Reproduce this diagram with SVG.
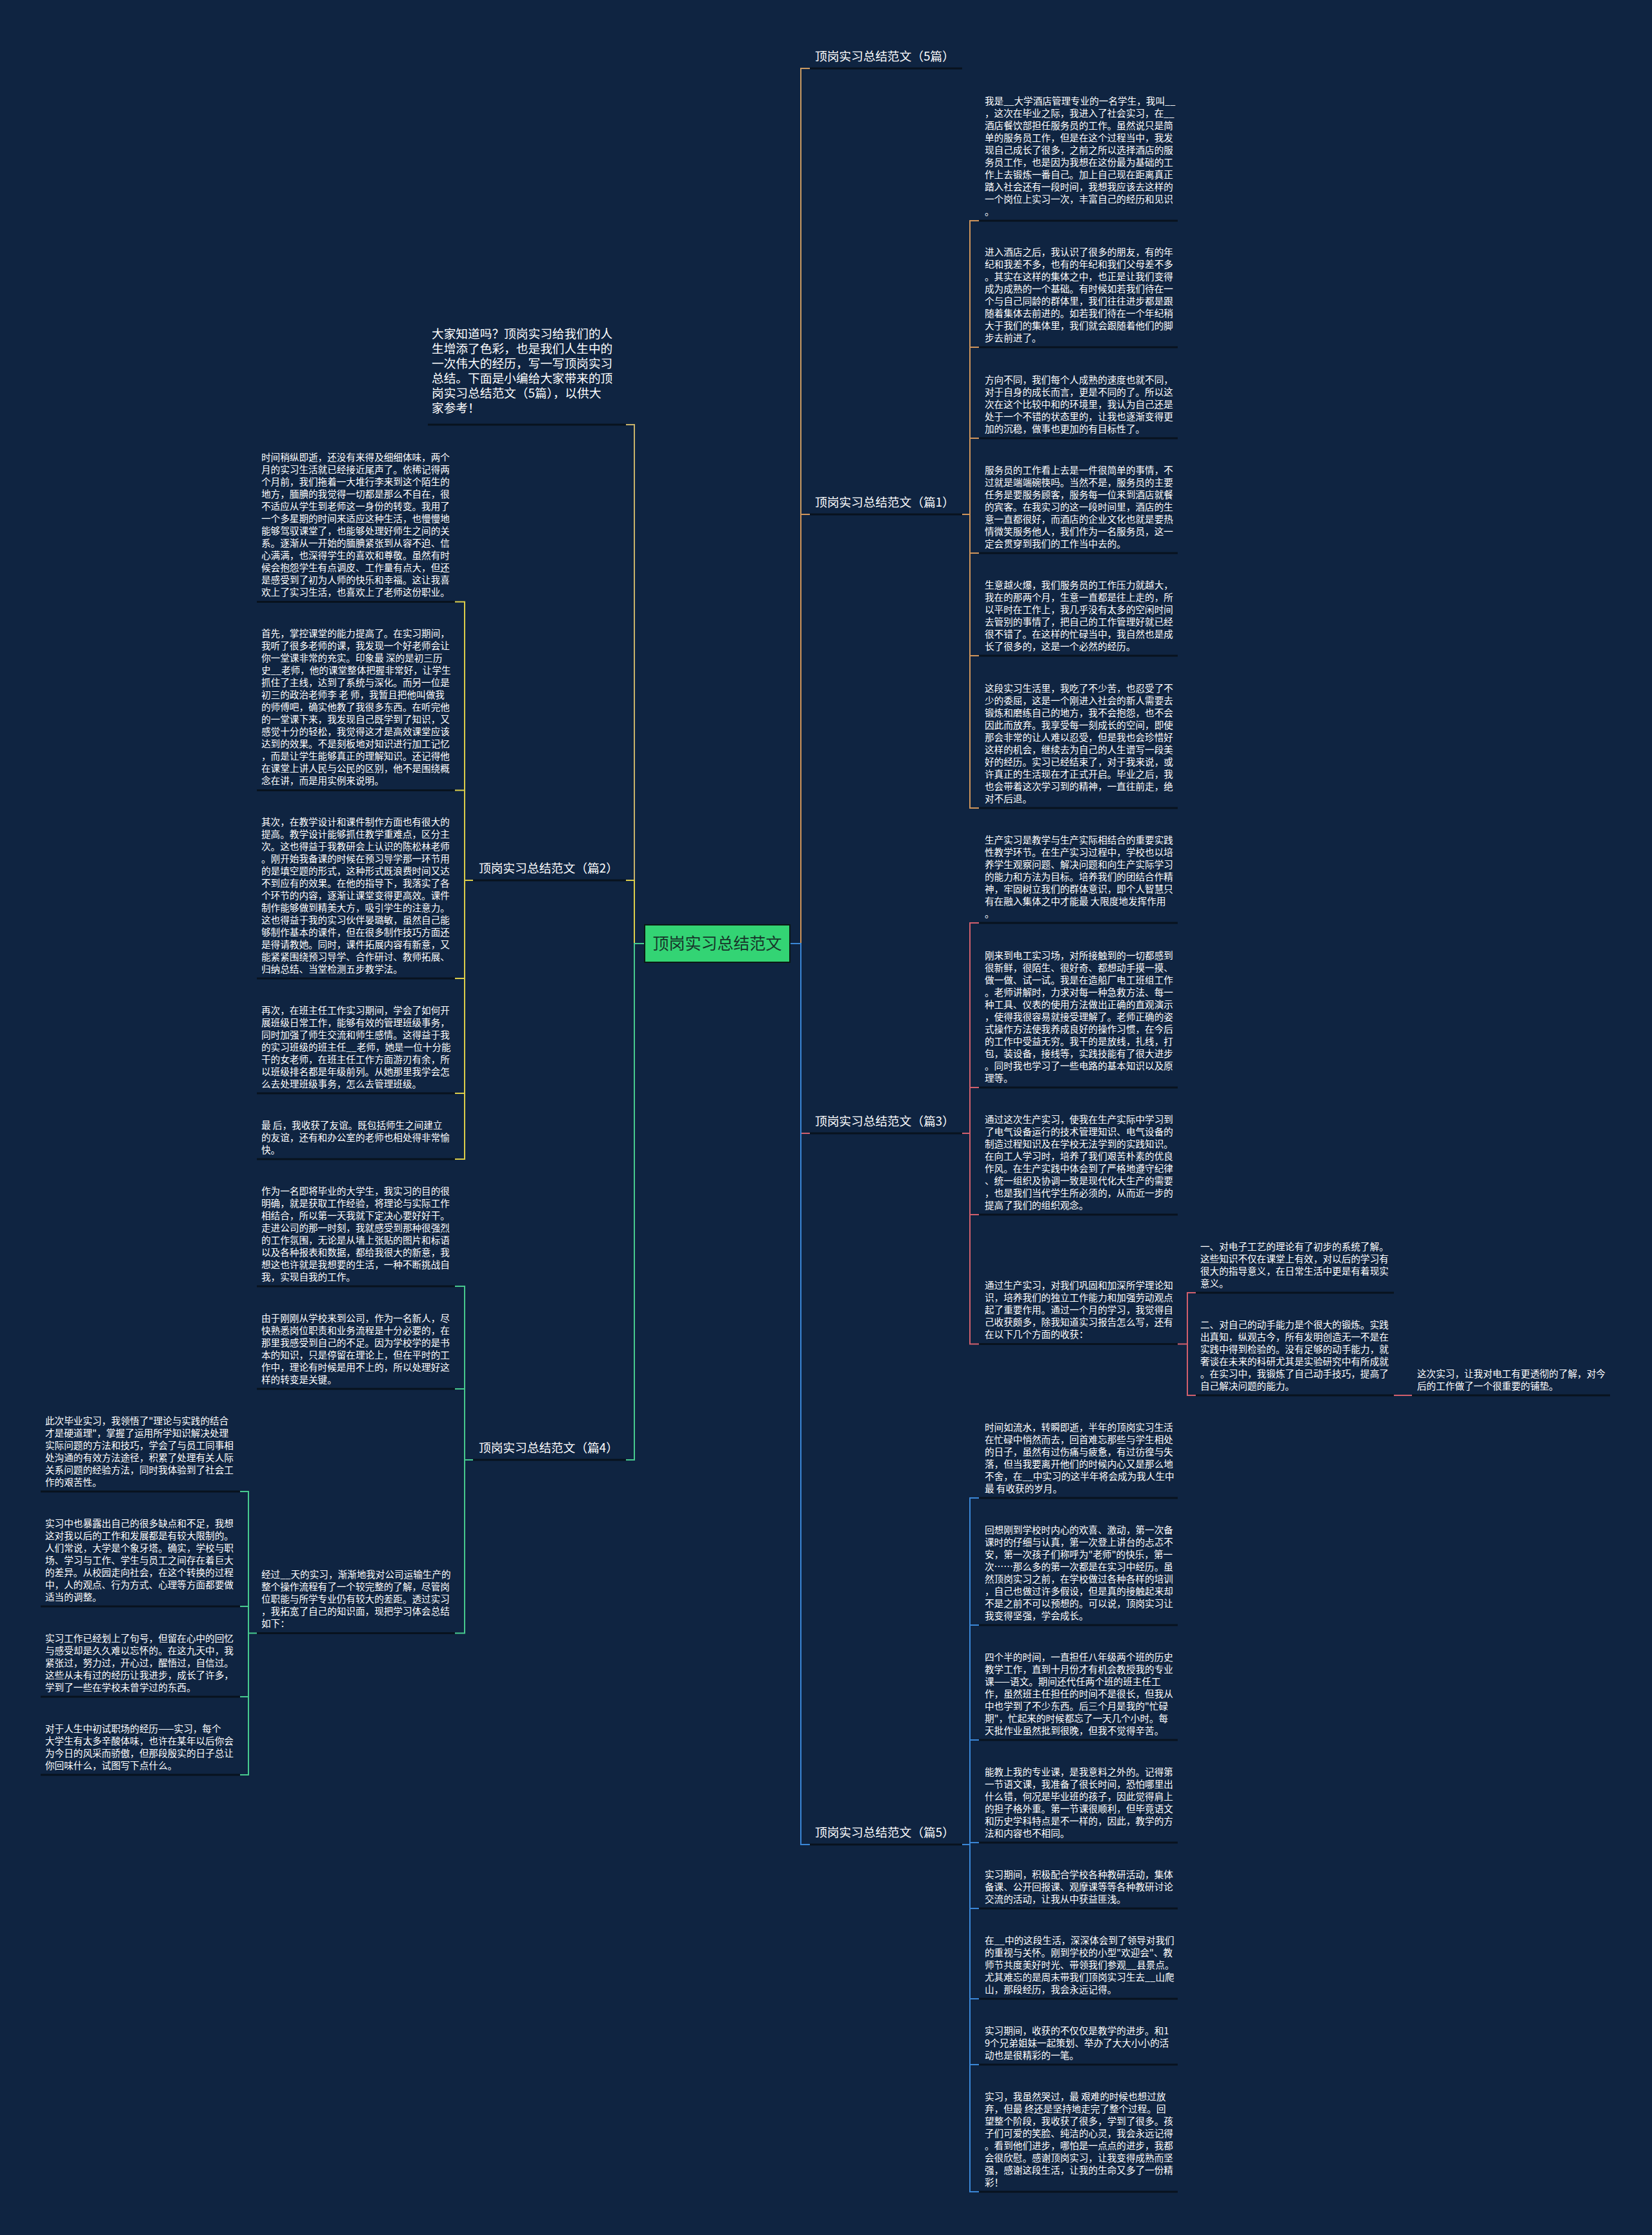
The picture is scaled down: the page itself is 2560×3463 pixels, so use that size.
<svg xmlns="http://www.w3.org/2000/svg" width="2560" height="3463" viewBox="0 0 2560 3463">
<style>
.t{font-family:"Noto Sans CJK SC","Noto Sans",sans-serif;font-size:14.6px;fill:#ffffff}
.h{font-family:"Noto Sans CJK SC","Noto Sans",sans-serif;font-size:18.7px;fill:#ffffff}
.ul{stroke:#08121e;stroke-width:3;fill:none}
.c{fill:none;stroke-width:2}
.o{stroke:#cf945a}.o2{stroke:#c99a62}.p{stroke:#d15f6c}.b{stroke:#3a86d6}.y{stroke:#dccd4a}.g{stroke:#47c98e}.i{stroke:#c8b26a}
</style>
<rect width="2560" height="3463" fill="#0f2441"/>
<g id="connectors">
<path class="c o2" d="M1224,1462 H1241 V106 H1255"/>
<path class="c o" d="M1224,1462 H1241 V797 H1255 M1491,797 H1503 M1517,342 H1503 V1252 H1517 M1503,538 H1517 M1503,679 H1517 M1503,857 H1517 M1503,1016 H1517"/>
<path class="c p" d="M1224,1462 H1241 V1756 H1255 M1491,1756 H1503 M1517,1430 H1503 V2082.5 H1517 M1503,1685 H1517 M1503,1882 H1517 M1825,2082.5 H1840 M1853,2003 H1840 V2162 H1853 M2160,2162 H2188"/>
<path class="c b" d="M1224,1462 H1241 V2858 H1255 M1491,2858 H1503 M1517,2321 H1503 V3396 H1517 M1503,2518 H1517 M1503,2696 H1517 M1503,2855 H1517 M1503,2957 H1517 M1503,3097 H1517 M1503,3199 H1517"/>
<path class="c i" d="M999,1462 H983 V658 H970"/>
<path class="c y" d="M999,1462 H983 V1364 H970 M733,1364 H720 M705,932.5 H720 V1796 H705 M720,1224.5 H705 M720,1516 H705 M720,1694 H705"/>
<path class="c g" d="M999,1462 H983 V2262 H970 M733,2262 H720 M705,1993 H720 V2530.5 H705 M720,2152 H705 M398,2530.5 H385 M372,2311 H385 V2750 H372 M385,2489 H372 M385,2629 H372"/>
</g>
<g id="underlines">
<path class="ul" d="M1255,106 H1491 M1255,797 H1491 M1255,1756 H1491 M1255,2858 H1491 M733,1364 H970 M733,2262 H970 M663,658 H970
M1517,342 H1825 M1517,538 H1825 M1517,679 H1825 M1517,857 H1825 M1517,1016 H1825 M1517,1252 H1825
M1517,1430 H1825 M1517,1685 H1825 M1517,1882 H1825 M1517,2082.5 H1825 M1853,2003 H2160 M1853,2162 H2160 M2188,2162 H2495
M1517,2321 H1825 M1517,2518 H1825 M1517,2696 H1825 M1517,2855 H1825 M1517,2957 H1825 M1517,3097 H1825 M1517,3199 H1825 M1517,3396 H1825
M398,932.5 H705 M398,1224.5 H705 M398,1516 H705 M398,1694 H705 M398,1796 H705 M398,1993 H705 M398,2152 H705 M398,2530.5 H705
M63,2311 H372 M63,2489 H372 M63,2629 H372 M63,2750 H372"/>
</g>
<g id="center">
<rect x="999" y="1433" width="225" height="58" fill="#33d474" stroke="#0a1a14" stroke-width="2"/>
<text x="1111.5" y="1471" text-anchor="middle" font-family="Noto Sans CJK SC, sans-serif" font-size="25" fill="#17352a">顶岗实习总结范文</text>
</g>
<g id="h5"><text class="h" x="1263" y="94">顶岗实习总结范文（5篇）</text></g>
<g id="h1"><text class="h" x="1263" y="785">顶岗实习总结范文（篇1）</text></g>
<g id="h3"><text class="h" x="1263" y="1744">顶岗实习总结范文（篇3）</text></g>
<g id="h5b"><text class="h" x="1263" y="2846">顶岗实习总结范文（篇5）</text></g>
<g id="h2"><text class="h" x="742" y="1352">顶岗实习总结范文（篇2）</text></g>
<g id="h4"><text class="h" x="742" y="2250">顶岗实习总结范文（篇4）</text></g>
<g id="intro"><text class="h" x="669" y="524"><tspan x="669">大家知道吗？顶岗实习给我们的人</tspan><tspan x="669" dy="23">生增添了色彩，也是我们人生中的</tspan><tspan x="669" dy="23">一次伟大的经历，写一写顶岗实习</tspan><tspan x="669" dy="23">总结。下面是小编给大家带来的顶</tspan><tspan x="669" dy="23">岗实习总结范文（5篇），以供大</tspan><tspan x="669" dy="23">家参考！</tspan></text></g>
<g id="b1"><text class="t" x="1526" y="161.5"><tspan x="1526">我是__大学酒店管理专业的一名学生，我叫__</tspan><tspan x="1526" dy="19">，这次在毕业之际，我进入了社会实习，在__</tspan><tspan x="1526" dy="19">酒店餐饮部担任服务员的工作。虽然说只是简</tspan><tspan x="1526" dy="19">单的服务员工作，但是在这个过程当中，我发</tspan><tspan x="1526" dy="19">现自己成长了很多，之前之所以选择酒店的服</tspan><tspan x="1526" dy="19">务员工作，也是因为我想在这份最为基础的工</tspan><tspan x="1526" dy="19">作上去锻炼一番自己。加上自己现在距离真正</tspan><tspan x="1526" dy="19">踏入社会还有一段时间，我想我应该去这样的</tspan><tspan x="1526" dy="19">一个岗位上实习一次，丰富自己的经历和见识</tspan><tspan x="1526" dy="19">。</tspan></text></g>
<g id="b2"><text class="t" x="1526" y="395.5"><tspan x="1526">进入酒店之后，我认识了很多的朋友，有的年</tspan><tspan x="1526" dy="19">纪和我差不多，也有的年纪和我们父母差不多</tspan><tspan x="1526" dy="19">。其实在这样的集体之中，也正是让我们变得</tspan><tspan x="1526" dy="19">成为成熟的一个基础。有时候如若我们待在一</tspan><tspan x="1526" dy="19">个与自己同龄的群体里，我们往往进步都是跟</tspan><tspan x="1526" dy="19">随着集体去前进的。如若我们待在一个年纪稍</tspan><tspan x="1526" dy="19">大于我们的集体里，我们就会跟随着他们的脚</tspan><tspan x="1526" dy="19">步去前进了。</tspan></text></g>
<g id="b3"><text class="t" x="1526" y="593.5"><tspan x="1526">方向不同，我们每个人成熟的速度也就不同，</tspan><tspan x="1526" dy="19">对于自身的成长而言，更是不同的了。所以这</tspan><tspan x="1526" dy="19">次在这个比较中和的环境里，我认为自己还是</tspan><tspan x="1526" dy="19">处于一个不错的状态里的，让我也逐渐变得更</tspan><tspan x="1526" dy="19">加的沉稳，做事也更加的有目标性了。</tspan></text></g>
<g id="b4"><text class="t" x="1526" y="733.5"><tspan x="1526">服务员的工作看上去是一件很简单的事情，不</tspan><tspan x="1526" dy="19">过就是端端碗筷吗。当然不是，服务员的主要</tspan><tspan x="1526" dy="19">任务是要服务顾客，服务每一位来到酒店就餐</tspan><tspan x="1526" dy="19">的宾客。在我实习的这一段时间里，酒店的生</tspan><tspan x="1526" dy="19">意一直都很好，而酒店的企业文化也就是要热</tspan><tspan x="1526" dy="19">情微笑服务他人，我们作为一名服务员，这一</tspan><tspan x="1526" dy="19">定会贯穿到我们的工作当中去的。</tspan></text></g>
<g id="b5"><text class="t" x="1526" y="911.5"><tspan x="1526">生意越火爆，我们服务员的工作压力就越大，</tspan><tspan x="1526" dy="19">我在的那两个月，生意一直都是往上走的，所</tspan><tspan x="1526" dy="19">以平时在工作上，我几乎没有太多的空闲时间</tspan><tspan x="1526" dy="19">去管别的事情了，把自己的工作管理好就已经</tspan><tspan x="1526" dy="19">很不错了。在这样的忙碌当中，我自然也是成</tspan><tspan x="1526" dy="19">长了很多的，这是一个必然的经历。</tspan></text></g>
<g id="b6"><text class="t" x="1526" y="1071.5"><tspan x="1526">这段实习生活里，我吃了不少苦，也忍受了不</tspan><tspan x="1526" dy="19">少的委屈，这是一个刚进入社会的新人需要去</tspan><tspan x="1526" dy="19">锻炼和磨练自己的地方，我不会抱怨，也不会</tspan><tspan x="1526" dy="19">因此而放弃。我享受每一刻成长的空间，即使</tspan><tspan x="1526" dy="19">那会非常的让人难以忍受，但是我也会珍惜好</tspan><tspan x="1526" dy="19">这样的机会，继续去为自己的人生谱写一段美</tspan><tspan x="1526" dy="19">好的经历。实习已经结束了，对于我来说，或</tspan><tspan x="1526" dy="19">许真正的生活现在才正式开启。毕业之后，我</tspan><tspan x="1526" dy="19">也会带着这次学习到的精神，一直往前走，绝</tspan><tspan x="1526" dy="19">对不后退。</tspan></text></g>
<g id="b7"><text class="t" x="1526" y="1306.5"><tspan x="1526">生产实习是教学与生产实际相结合的重要实践</tspan><tspan x="1526" dy="19">性教学环节。在生产实习过程中，学校也以培</tspan><tspan x="1526" dy="19">养学生观察问题、解决问题和向生产实际学习</tspan><tspan x="1526" dy="19">的能力和方法为目标。培养我们的团结合作精</tspan><tspan x="1526" dy="19">神，牢固树立我们的群体意识，即个人智慧只</tspan><tspan x="1526" dy="19">有在融入集体之中才能最 大限度地发挥作用</tspan><tspan x="1526" dy="19">。</tspan></text></g>
<g id="b8"><text class="t" x="1526" y="1485.5"><tspan x="1526">刚来到电工实习场，对所接触到的一切都感到</tspan><tspan x="1526" dy="19">很新鲜，很陌生、很好奇、都想动手摸一摸、</tspan><tspan x="1526" dy="19">做一做、试一试。我是在造船厂电工班组工作</tspan><tspan x="1526" dy="19">。老师讲解时，力求对每一种急救方法、每一</tspan><tspan x="1526" dy="19">种工具、仪表的使用方法做出正确的直观演示</tspan><tspan x="1526" dy="19">，使得我很容易就接受理解了。老师正确的姿</tspan><tspan x="1526" dy="19">式操作方法使我养成良好的操作习惯，在今后</tspan><tspan x="1526" dy="19">的工作中受益无穷。我干的是放线，扎线，打</tspan><tspan x="1526" dy="19">包，装设备，接线等，实践技能有了很大进步</tspan><tspan x="1526" dy="19">。同时我也学习了一些电路的基本知识以及原</tspan><tspan x="1526" dy="19">理等。</tspan></text></g>
<g id="b9"><text class="t" x="1526" y="1739.5"><tspan x="1526">通过这次生产实习，使我在生产实际中学习到</tspan><tspan x="1526" dy="19">了电气设备运行的技术管理知识、电气设备的</tspan><tspan x="1526" dy="19">制造过程知识及在学校无法学到的实践知识。</tspan><tspan x="1526" dy="19">在向工人学习时，培养了我们艰苦朴素的优良</tspan><tspan x="1526" dy="19">作风。在生产实践中体会到了严格地遵守纪律</tspan><tspan x="1526" dy="19">、统一组织及协调一致是现代化大生产的需要</tspan><tspan x="1526" dy="19">，也是我们当代学生所必须的，从而近一步的</tspan><tspan x="1526" dy="19">提高了我们的组织观念。</tspan></text></g>
<g id="b10"><text class="t" x="1526" y="1997"><tspan x="1526">通过生产实习，对我们巩固和加深所学理论知</tspan><tspan x="1526" dy="19">识，培养我们的独立工作能力和加强劳动观点</tspan><tspan x="1526" dy="19">起了重要作用。通过一个月的学习，我觉得自</tspan><tspan x="1526" dy="19">己收获颇多，除我知道实习报告怎么写，还有</tspan><tspan x="1526" dy="19">在以下几个方面的收获：</tspan></text></g>
<g id="fr1"><text class="t" x="1860" y="1936.5"><tspan x="1860">一、对电子工艺的理论有了初步的系统了解。</tspan><tspan x="1860" dy="19">这些知识不仅在课堂上有效，对以后的学习有</tspan><tspan x="1860" dy="19">很大的指导意义，在日常生活中更是有着现实</tspan><tspan x="1860" dy="19">意义。</tspan></text></g>
<g id="fr2"><text class="t" x="1860" y="2057.5"><tspan x="1860">二、对自己的动手能力是个很大的锻炼。实践</tspan><tspan x="1860" dy="19">出真知，纵观古今，所有发明创造无一不是在</tspan><tspan x="1860" dy="19">实践中得到检验的。没有足够的动手能力，就</tspan><tspan x="1860" dy="19">奢谈在未来的科研尤其是实验研究中有所成就</tspan><tspan x="1860" dy="19">。在实习中，我锻炼了自己动手技巧，提高了</tspan><tspan x="1860" dy="19">自己解决问题的能力。</tspan></text></g>
<g id="fr3"><text class="t" x="2196" y="2133.5"><tspan x="2196">这次实习，让我对电工有更透彻的了解，对今</tspan><tspan x="2196" dy="19">后的工作做了一个很重要的铺垫。</tspan></text></g>
<g id="b11"><text class="t" x="1526" y="2216.5"><tspan x="1526">时间如流水，转瞬即逝，半年的顶岗实习生活</tspan><tspan x="1526" dy="19">在忙碌中悄然而去，回首难忘那些与学生相处</tspan><tspan x="1526" dy="19">的日子，虽然有过伤痛与疲惫，有过彷徨与失</tspan><tspan x="1526" dy="19">落，但当我要离开他们的时候内心又是那么地</tspan><tspan x="1526" dy="19">不舍，在__中实习的这半年将会成为我人生中</tspan><tspan x="1526" dy="19">最 有收获的岁月。</tspan></text></g>
<g id="b12"><text class="t" x="1526" y="2375.5"><tspan x="1526">回想刚到学校时内心的欢喜、激动，第一次备</tspan><tspan x="1526" dy="19">课时的仔细与认真，第一次登上讲台的忐忑不</tspan><tspan x="1526" dy="19">安，第一次孩子们称呼为"老师"的快乐，第一</tspan><tspan x="1526" dy="19">次……那么多的第一次都是在实习中经历。虽</tspan><tspan x="1526" dy="19">然顶岗实习之前，在学校做过各种各样的培训</tspan><tspan x="1526" dy="19">，自己也做过许多假设，但是真的接触起来却</tspan><tspan x="1526" dy="19">不是之前不可以预想的。可以说，顶岗实习让</tspan><tspan x="1526" dy="19">我变得坚强，学会成长。</tspan></text></g>
<g id="b13"><text class="t" x="1526" y="2572.5"><tspan x="1526">四个半的时间，一直担任八年级两个班的历史</tspan><tspan x="1526" dy="19">教学工作，直到十月份才有机会教授我的专业</tspan><tspan x="1526" dy="19">课——语文。期间还代任两个班的班主任工</tspan><tspan x="1526" dy="19">作，虽然班主任担任的时间不是很长，但我从</tspan><tspan x="1526" dy="19">中也学到了不少东西。后三个月是我的"忙碌</tspan><tspan x="1526" dy="19">期"，忙起来的时候都忘了一天几个小时。每</tspan><tspan x="1526" dy="19">天批作业虽然批到很晚，但我不觉得辛苦。</tspan></text></g>
<g id="b14"><text class="t" x="1526" y="2750.5"><tspan x="1526">能教上我的专业课，是我意料之外的。记得第</tspan><tspan x="1526" dy="19">一节语文课，我准备了很长时间，恐怕哪里出</tspan><tspan x="1526" dy="19">什么错，何况是毕业班的孩子，因此觉得肩上</tspan><tspan x="1526" dy="19">的担子格外重。第一节课很顺利，但毕竟语文</tspan><tspan x="1526" dy="19">和历史学科特点是不一样的，因此，教学的方</tspan><tspan x="1526" dy="19">法和内容也不相同。</tspan></text></g>
<g id="b15"><text class="t" x="1526" y="2909.5"><tspan x="1526">实习期间，积极配合学校各种教研活动，集体</tspan><tspan x="1526" dy="19">备课、公开回报课、观摩课等等各种教研讨论</tspan><tspan x="1526" dy="19">交流的活动，让我从中获益匪浅。</tspan></text></g>
<g id="b16"><text class="t" x="1526" y="3011.5"><tspan x="1526">在__中的这段生活，深深体会到了领导对我们</tspan><tspan x="1526" dy="19">的重视与关怀。刚到学校的小型"欢迎会"、教</tspan><tspan x="1526" dy="19">师节共度美好时光、带领我们参观__县景点。</tspan><tspan x="1526" dy="19">尤其难忘的是周末带我们顶岗实习生去__山爬</tspan><tspan x="1526" dy="19">山，那段经历，我会永远记得。</tspan></text></g>
<g id="b17"><text class="t" x="1526" y="3151.5"><tspan x="1526">实习期间，收获的不仅仅是教学的进步。和1</tspan><tspan x="1526" dy="19">9个兄弟姐妹一起策划、举办了大大小小的活</tspan><tspan x="1526" dy="19">动也是很精彩的一笔。</tspan></text></g>
<g id="b18"><text class="t" x="1526" y="3253.5"><tspan x="1526">实习，我虽然哭过，最 艰难的时候也想过放</tspan><tspan x="1526" dy="19">弃，但最 终还是坚持地走完了整个过程。回</tspan><tspan x="1526" dy="19">望整个阶段，我收获了很多，学到了很多。孩</tspan><tspan x="1526" dy="19">子们可爱的笑脸、纯洁的心灵，我会永远记得</tspan><tspan x="1526" dy="19">。看到他们进步，哪怕是一点点的进步，我都</tspan><tspan x="1526" dy="19">会很欣慰。感谢顶岗实习，让我变得成熟而坚</tspan><tspan x="1526" dy="19">强，感谢这段生活，让我的生命又多了一份精</tspan><tspan x="1526" dy="19">彩！</tspan></text></g>
<g id="l1"><text class="t" x="405" y="714"><tspan x="405">时间稍纵即逝，还没有来得及细细体味，两个</tspan><tspan x="405" dy="19">月的实习生活就已经接近尾声了。依稀记得两</tspan><tspan x="405" dy="19">个月前，我们拖着一大堆行李来到这个陌生的</tspan><tspan x="405" dy="19">地方，腼腆的我觉得一切都是那么不自在，很</tspan><tspan x="405" dy="19">不适应从学生到老师这一身份的转变。我用了</tspan><tspan x="405" dy="19">一个多星期的时间来适应这种生活，也慢慢地</tspan><tspan x="405" dy="19">能够驾驭课堂了，也能够处理好师生之间的关</tspan><tspan x="405" dy="19">系。逐渐从一开始的腼腆紧张到从容不迫、信</tspan><tspan x="405" dy="19">心满满，也深得学生的喜欢和尊敬。虽然有时</tspan><tspan x="405" dy="19">候会抱怨学生有点调皮、工作量有点大，但还</tspan><tspan x="405" dy="19">是感受到了初为人师的快乐和幸福。这让我喜</tspan><tspan x="405" dy="19">欢上了实习生活，也喜欢上了老师这份职业。</tspan></text></g>
<g id="l2"><text class="t" x="405" y="987"><tspan x="405">首先，掌控课堂的能力提高了。在实习期间，</tspan><tspan x="405" dy="19">我听了很多老师的课，我发现一个好老师会让</tspan><tspan x="405" dy="19">你一堂课非常的充实。印象最 深的是初三历</tspan><tspan x="405" dy="19">史__老师，他的课堂整体把握非常好，让学生</tspan><tspan x="405" dy="19">抓住了主线，达到了系统与深化。而另一位是</tspan><tspan x="405" dy="19">初三的政治老师李 老 师，我暂且把他叫做我</tspan><tspan x="405" dy="19">的师傅吧，确实他教了我很多东西。在听完他</tspan><tspan x="405" dy="19">的一堂课下来，我发现自己既学到了知识，又</tspan><tspan x="405" dy="19">感觉十分的轻松，我觉得这才是高效课堂应该</tspan><tspan x="405" dy="19">达到的效果。不是刻板地对知识进行加工记忆</tspan><tspan x="405" dy="19">，而是让学生能够真正的理解知识。还记得他</tspan><tspan x="405" dy="19">在课堂上讲人民与公民的区别，他不是围绕概</tspan><tspan x="405" dy="19">念在讲，而是用实例来说明。</tspan></text></g>
<g id="l3"><text class="t" x="405" y="1278.5"><tspan x="405">其次，在教学设计和课件制作方面也有很大的</tspan><tspan x="405" dy="19">提高。教学设计能够抓住教学重难点，区分主</tspan><tspan x="405" dy="19">次。这也得益于我教研会上认识的陈松林老师</tspan><tspan x="405" dy="19">。刚开始我备课的时候在预习导学那一环节用</tspan><tspan x="405" dy="19">的是填空题的形式，这种形式既浪费时间又达</tspan><tspan x="405" dy="19">不到应有的效果。在他的指导下，我落实了各</tspan><tspan x="405" dy="19">个环节的内容，逐渐让课堂变得更高效。课件</tspan><tspan x="405" dy="19">制作能够做到精美大方，吸引学生的注意力。</tspan><tspan x="405" dy="19">这也得益于我的实习伙伴晏璐敏，虽然自己能</tspan><tspan x="405" dy="19">够制作基本的课件，但在很多制作技巧方面还</tspan><tspan x="405" dy="19">是得请教她。同时，课件拓展内容有新意，又</tspan><tspan x="405" dy="19">能紧紧围绕预习导学、合作研讨、教师拓展、</tspan><tspan x="405" dy="19">归纳总结、当堂检测五步教学法。</tspan></text></g>
<g id="l4"><text class="t" x="405" y="1570.5"><tspan x="405">再次，在班主任工作实习期间，学会了如何开</tspan><tspan x="405" dy="19">展班级日常工作，能够有效的管理班级事务，</tspan><tspan x="405" dy="19">同时加强了师生交流和师生感情。这得益于我</tspan><tspan x="405" dy="19">的实习班级的班主任__老师，她是一位十分能</tspan><tspan x="405" dy="19">干的女老师，在班主任工作方面游刃有余，所</tspan><tspan x="405" dy="19">以班级排名都是年级前列。从她那里我学会怎</tspan><tspan x="405" dy="19">么去处理班级事务，怎么去管理班级。</tspan></text></g>
<g id="l5"><text class="t" x="405" y="1748.5"><tspan x="405">最 后，我收获了友谊。既包括师生之间建立</tspan><tspan x="405" dy="19">的友谊，还有和办公室的老师也相处得非常愉</tspan><tspan x="405" dy="19">快。</tspan></text></g>
<g id="l6"><text class="t" x="405" y="1850.5"><tspan x="405">作为一名即将毕业的大学生，我实习的目的很</tspan><tspan x="405" dy="19">明确，就是获取工作经验，将理论与实际工作</tspan><tspan x="405" dy="19">相结合，所以第一天我就下定决心要好好干。</tspan><tspan x="405" dy="19">走进公司的那一时刻，我就感受到那种很强烈</tspan><tspan x="405" dy="19">的工作氛围，无论是从墙上张贴的图片和标语</tspan><tspan x="405" dy="19">以及各种报表和数据，都给我很大的新意，我</tspan><tspan x="405" dy="19">想这也许就是我想要的生活，一种不断挑战自</tspan><tspan x="405" dy="19">我，实现自我的工作。</tspan></text></g>
<g id="l7"><text class="t" x="405" y="2047.5"><tspan x="405">由于刚刚从学校来到公司，作为一名新人，尽</tspan><tspan x="405" dy="19">快熟悉岗位职责和业务流程是十分必要的，在</tspan><tspan x="405" dy="19">那里我感受到自己的不足。因为学校学的是书</tspan><tspan x="405" dy="19">本的知识，只是停留在理论上，但在平时的工</tspan><tspan x="405" dy="19">作中，理论有时候是用不上的，所以处理好这</tspan><tspan x="405" dy="19">样的转变是关键。</tspan></text></g>
<g id="l8"><text class="t" x="405" y="2445"><tspan x="405">经过__天的实习，渐渐地我对公司运输生产的</tspan><tspan x="405" dy="19">整个操作流程有了一个较完整的了解，尽管岗</tspan><tspan x="405" dy="19">位职能与所学专业仍有较大的差距。透过实习</tspan><tspan x="405" dy="19">，我拓宽了自己的知识面，现把学习体会总结</tspan><tspan x="405" dy="19">如下：</tspan></text></g>
<g id="fl1"><text class="t" x="70" y="2206.5"><tspan x="70">此次毕业实习，我领悟了"理论与实践的结合</tspan><tspan x="70" dy="19">才是硬道理"，掌握了运用所学知识解决处理</tspan><tspan x="70" dy="19">实际问题的方法和技巧，学会了与员工同事相</tspan><tspan x="70" dy="19">处沟通的有效方法途径，积累了处理有关人际</tspan><tspan x="70" dy="19">关系问题的经验方法，同时我体验到了社会工</tspan><tspan x="70" dy="19">作的艰苦性。</tspan></text></g>
<g id="fl2"><text class="t" x="70" y="2365.5"><tspan x="70">实习中也暴露出自己的很多缺点和不足，我想</tspan><tspan x="70" dy="19">这对我以后的工作和发展都是有较大限制的。</tspan><tspan x="70" dy="19">人们常说，大学是个象牙塔。确实，学校与职</tspan><tspan x="70" dy="19">场、学习与工作、学生与员工之间存在着巨大</tspan><tspan x="70" dy="19">的差异。从校园走向社会，在这个转换的过程</tspan><tspan x="70" dy="19">中，人的观点、行为方式、心理等方面都要做</tspan><tspan x="70" dy="19">适当的调整。</tspan></text></g>
<g id="fl3"><text class="t" x="70" y="2543.5"><tspan x="70">实习工作已经划上了句号，但留在心中的回忆</tspan><tspan x="70" dy="19">与感受却是久久难以忘怀的。在这九天中，我</tspan><tspan x="70" dy="19">紧张过，努力过，开心过，醒悟过，自信过。</tspan><tspan x="70" dy="19">这些从未有过的经历让我进步，成长了许多，</tspan><tspan x="70" dy="19">学到了一些在学校未曾学过的东西。</tspan></text></g>
<g id="fl4"><text class="t" x="70" y="2683.5"><tspan x="70">对于人生中初试职场的经历——实习，每个</tspan><tspan x="70" dy="19">大学生有太多辛酸体味，也许在某年以后你会</tspan><tspan x="70" dy="19">为今日的风采而骄傲，但那段殷实的日子总让</tspan><tspan x="70" dy="19">你回味什么，试图写下点什么。</tspan></text></g>
</svg>
